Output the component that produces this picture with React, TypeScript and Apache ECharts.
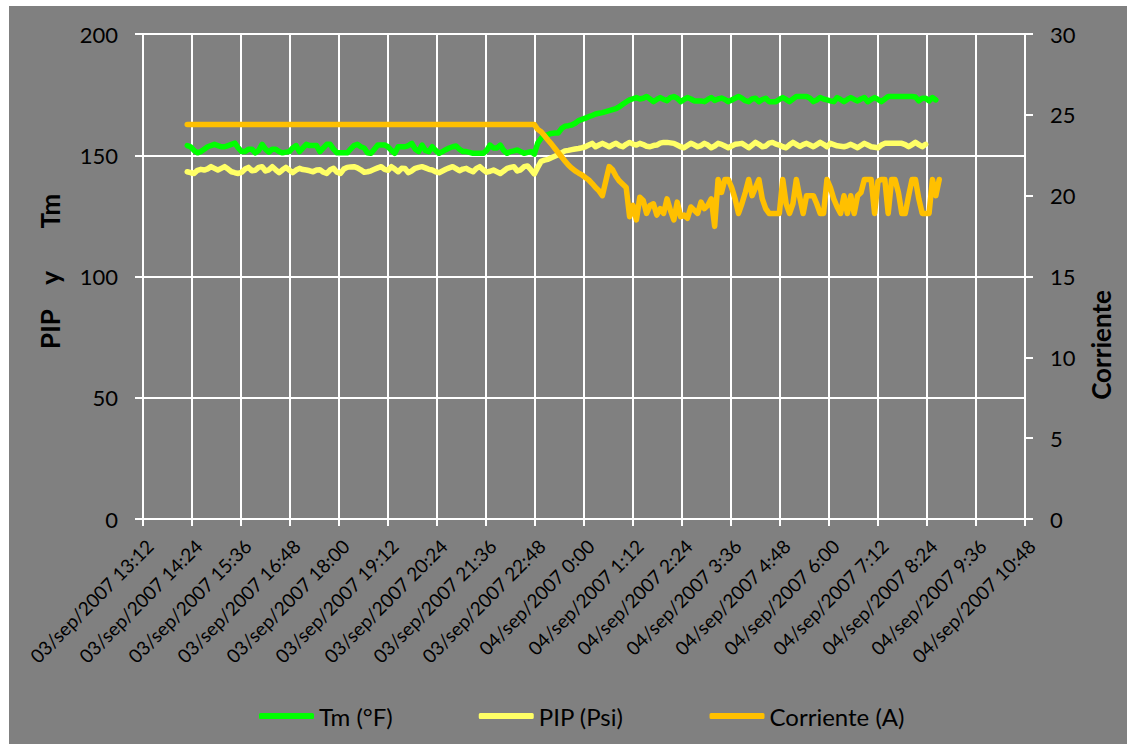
import React, { useEffect, useRef } from "react";
import * as echarts from "echarts";

// x values are minutes after 03/sep/2007 13:12
const X_MIN = 0;
const X_MAX = 1296;
const X_INTERVAL = 72;
const START_MIN = 65; // first sample 14:17
const STEP_MIN = 5;

const seriesNames = ["Tm (°F)", "PIP (Psi)", "Corriente (A)"];
const seriesColors = ["#00FF00", "#FFFF66", "#FFC000"];

const tmValues = [
  154, 153.5, 152, 151, 151.5, 152.5, 153.5, 154, 154.5, 154,
  153.5, 153.5, 154, 154.5, 155, 153, 151.5, 151.5, 152.5, 152.5,
  151, 152, 154.5, 152.5, 151.3, 152.5, 152.5, 151.5, 151, 151.3,
  151.5, 153, 154, 151.5, 153, 154.5, 154, 154, 154, 151.5,
  153, 154.5, 154.5, 152.5, 151, 151, 151, 151, 152.5, 154,
  154.5, 153.5, 153, 151, 150.8, 152.5, 154.2, 154.2, 154.2, 153.5,
  152, 150.8, 153.5, 153.5, 153.5, 154, 154.9, 152.5, 151.5, 154.2,
  152, 151.5, 153.5, 152, 150.8, 151.5, 152.3, 153, 153.5, 153.8,
  152.5, 151.5, 151.5, 151.2, 150.8, 150.8, 150.8, 150.8, 152, 154.2,
  153, 153, 154.2, 152, 150.8, 151.5, 151.8, 152.2, 151.5, 150.8,
  151.2, 151.5, 150.5, 155, 157, 158.2, 158.5, 159, 159.2, 159.2,
  161, 162, 162.2, 162.5, 163.2, 164.3, 164.8, 165.3, 165.9, 166.4,
  167, 167.3, 167.6, 168, 168.4, 168.8, 169.2, 170, 171, 172,
  172.8, 173.3, 173.8, 173.2, 173.5, 174.2, 173.2, 172.1, 173, 173.8,
  173, 172.5, 173.8, 174.2, 173.5, 172.1, 173, 173.8, 173.2, 172.4,
  172.4, 172.4, 172.1, 173, 173.8, 172.6, 173.2, 173.6, 173, 172.1,
  172.8, 173.5, 174.2, 173.5, 172.5, 172.1, 173.2, 173.5, 172.1, 173,
  173.5, 172.1, 172.1, 172.1, 173, 173.8, 173, 172.1, 173.2, 174.2,
  174.2, 174.2, 174.2, 173.5, 172.1, 172.8, 173.8, 173.2, 172.8, 172.4,
  172.1, 173.8, 173, 172.1, 173, 173.8, 173, 172.4, 173.2, 173.8,
  172.1, 173, 173.8, 173, 172.1, 173.2, 174.2, 174.2, 174.2, 174.2,
  174.2, 174.2, 174.2, 174.2, 174, 172.4, 173.5, 173.5, 172.4, 173.8,
  172.8,
];

const pipValues = [
  143.2, 142.8, 142.5, 143.8, 144.2, 143.9, 144.4, 145.3, 144.6, 143.9,
  144.6, 145.3, 144.3, 143.2, 142.8, 142.5, 143, 144.3, 145, 143.6,
  143.8, 145, 145.3, 143.5, 144, 145.3, 144, 142.8, 144, 145,
  143.9, 142.8, 143.9, 144.6, 144.1, 143.9, 143.6, 143.2, 143.9, 144,
  143, 142.5, 144, 144.6, 143, 142.5, 144.3, 145, 145.2, 145.3,
  144.8, 144, 143, 143.2, 143.6, 144.2, 144.8, 145.3, 144.2, 143.8,
  145.3, 144.3, 143.2, 144.6, 144.5, 142.8, 143.6, 144.6, 145, 145.3,
  144.8, 144.2, 143.9, 143.2, 142.8, 143.5, 144.2, 144.8, 145.3, 144.5,
  143.6, 144.3, 144.6, 143.8, 143.2, 144.6, 145.3, 144, 143, 143.4,
  143.9, 143.2, 142.5, 143.5, 144.6, 145, 145.3, 143.5, 144, 145.3,
  145.6, 144, 142.3, 145, 147.5, 148, 148.3, 149, 149.6, 150.2,
  151, 151.8, 152, 152.3, 152.6, 152.8, 153.1, 153.5, 154.2, 154.9,
  153.5, 154.2, 154.9, 154.2, 153.5, 154.3, 154.9, 154, 153.5, 154.5,
  155.3, 154.6, 154.2, 154.9, 154.4, 153.7, 153.5, 154, 154.2, 155,
  155.3, 155.3, 155.1, 154.9, 154.2, 153.5, 153.1, 154, 154.9, 154.3,
  153.5, 154, 154.9, 154.2, 153.1, 153.8, 154.9, 154.5, 153.8, 153.1,
  153.8, 154.5, 154.7, 154.9, 154, 153.1, 154.2, 155.3, 154.5, 153.5,
  153.8, 155, 155.3, 154.6, 154.2, 153.5, 153.1, 154.3, 155.3, 154.5,
  153.6, 154.4, 154.9, 154.2, 153.5, 154.4, 155.3, 154.5, 153.5, 154.9,
  154.4, 153.9, 153.7, 153.5, 153.9, 154.5, 153.8, 153.1, 154, 154.9,
  154.2, 153.5, 153.3, 153.1, 154.2, 154.9, 154.9, 154.9, 154.9, 154.9,
  154.9, 154.4, 153.5, 154.4, 155.3, 154.4, 153.5, 154.5,
];

const corrienteValues = [
  24.4, 24.4, 24.4, 24.4, 24.4, 24.4, 24.4, 24.4, 24.4, 24.4,
  24.4, 24.4, 24.4, 24.4, 24.4, 24.4, 24.4, 24.4, 24.4, 24.4,
  24.4, 24.4, 24.4, 24.4, 24.4, 24.4, 24.4, 24.4, 24.4, 24.4,
  24.4, 24.4, 24.4, 24.4, 24.4, 24.4, 24.4, 24.4, 24.4, 24.4,
  24.4, 24.4, 24.4, 24.4, 24.4, 24.4, 24.4, 24.4, 24.4, 24.4,
  24.4, 24.4, 24.4, 24.4, 24.4, 24.4, 24.4, 24.4, 24.4, 24.4,
  24.4, 24.4, 24.4, 24.4, 24.4, 24.4, 24.4, 24.4, 24.4, 24.4,
  24.4, 24.4, 24.4, 24.4, 24.4, 24.4, 24.4, 24.4, 24.4, 24.4,
  24.4, 24.4, 24.4, 24.4, 24.4, 24.4, 24.4, 24.4, 24.4, 24.4,
  24.4, 24.4, 24.4, 24.4, 24.4, 24.4, 24.4, 24.4, 24.4, 24.4,
  24.4, 24.4, 24.4, 24.1, 23.95, 23.7, 23.44, 23.2, 22.93, 22.67,
  22.41, 22.15, 21.9, 21.7, 21.53, 21.4, 21.28, 21.12, 20.97, 20.75,
  20.5, 20.3, 20.0, 20.9, 21.8, 21.6, 21.2, 20.9, 20.7, 20.5,
  18.7, 19.4, 18.5, 19.9, 19.7, 18.9, 19.4, 19.5, 18.8, 19.2,
  18.9, 19.8, 19.1, 18.5, 19.6, 18.7, 18.8, 18.6, 19.3, 19.1,
  18.9, 19.6, 19.2, 19.4, 19.8, 18.1, 21.0, 20.2, 21.0, 21.0,
  20.5, 19.8, 18.9, 19.5, 20.2, 21.0, 20.0, 20.5, 21.0, 19.8,
  19.2, 18.9, 18.9, 18.9, 18.9, 21.0, 19.5, 18.9, 19.5, 21.0,
  19.9, 18.9, 20.0, 20.0, 20.0, 19.5, 18.9, 18.9, 21.0, 20.5,
  19.8, 19.3, 18.9, 20.0, 18.9, 20.0, 18.9, 20.0, 20.2, 21.0,
  21.0, 21.0, 18.9, 20.9, 21.0, 21.0, 18.9, 21.0, 21.0, 20.2,
  18.9, 18.9, 20.0, 21.0, 21.0, 19.8, 18.9, 18.9, 18.9, 21.0,
  20.0, 21.0,
];

const leftAxis = { min: 0, max: 200, interval: 50 };
const rightAxis = { min: 0, max: 30, interval: 5 };

const FONT = 'Lato, "Noto Sans", sans-serif';

function toPairs(values: number[]) {
  return values.map((v, i) => [START_MIN + i * STEP_MIN, v]);
}

function formatTime(v: number) {
  const total = 13 * 60 + 12 + v;
  const day = 3 + Math.floor(total / 1440);
  const rem = total % 1440;
  const h = Math.floor(rem / 60);
  const m = rem % 60;
  return `${String(day).padStart(2, "0")}/sep/2007 ${h}:${String(m).padStart(2, "0")}`;
}

export default function App() {
  const ref = useRef<HTMLDivElement>(null);
  useEffect(() => {
    const chart = echarts.init(ref.current!, null, { renderer: "svg" });
    const white = { color: "#FFFFFF", width: 2 };
    const seriesData = [tmValues, pipValues, corrienteValues];
    chart.setOption({
      animation: false,
      backgroundColor: "#808080",
      textStyle: { fontFamily: FONT, color: "#000" },
      grid: { left: 134, right: 102, top: 28, bottom: 225 },
      legend: {
        data: seriesNames,
        left: 245,
        top: 693,
        icon: "roundRect",
        itemWidth: 55,
        itemHeight: 6,
        itemGap: 86,
        textStyle: { fontFamily: FONT, fontSize: 24, color: "#000" },
      },
      xAxis: {
        type: "value",
        min: X_MIN,
        max: X_MAX,
        interval: X_INTERVAL,
        axisLine: { show: true, lineStyle: white },
        axisTick: { show: true, length: 7, lineStyle: white },
        splitLine: { show: true, lineStyle: white },
        axisLabel: {
          rotate: 45,
          align: "right",
          verticalAlign: "top",
          margin: 17,
          fontSize: 19,
          fontFamily: FONT,
          color: "#000",
          formatter: (v: number) => formatTime(v),
        },
      },
      yAxis: [
        {
          type: "value",
          ...leftAxis,
          axisLine: { show: true, lineStyle: white },
          axisTick: { show: true, length: 8, lineStyle: white },
          splitLine: { show: true, lineStyle: white },
          axisLabel: { margin: 25, fontSize: 22, fontFamily: FONT, color: "#000" },
        },
        {
          type: "value",
          position: "right",
          ...rightAxis,
          axisLine: { show: true, lineStyle: white },
          axisTick: { show: true, length: 8, lineStyle: white },
          splitLine: { show: false },
          axisLabel: { margin: 25, fontSize: 22, fontFamily: FONT, color: "#000" },
        },
      ],
      graphic: [
        {
          type: "text",
          x: 41,
          y: 323,
          rotation: Math.PI / 2,
          style: { text: "PIP", fontSize: 26, fontWeight: "bold", fontFamily: FONT, fill: "#000", align: "center", verticalAlign: "middle" },
        },
        {
          type: "text",
          x: 41,
          y: 272,
          rotation: Math.PI / 2,
          style: { text: "y", fontSize: 26, fontWeight: "bold", fontFamily: FONT, fill: "#000", align: "center", verticalAlign: "middle" },
        },
        {
          type: "text",
          x: 41,
          y: 205,
          rotation: Math.PI / 2,
          style: { text: "Tm", fontSize: 26, fontWeight: "bold", fontFamily: FONT, fill: "#000", align: "center", verticalAlign: "middle" },
        },
        {
          type: "text",
          x: 1092,
          y: 339,
          rotation: Math.PI / 2,
          style: { text: "Corriente", fontSize: 26, fontWeight: "bold", fontFamily: FONT, fill: "#000", align: "center", verticalAlign: "middle" },
        },
      ],
      series: seriesNames.map((name, k) => ({
        name,
        type: "line",
        yAxisIndex: k === 2 ? 1 : 0,
        data: toPairs(seriesData[k]),
        showSymbol: false,
        symbol: "none",
        color: seriesColors[k],
        itemStyle: { color: seriesColors[k] },
        lineStyle: { width: 5.5, color: seriesColors[k], cap: "round", join: "round" },
        z: 2 + k,
      })),
    });
    return () => chart.dispose();
  }, []);
  return (
    <div
      ref={ref}
      style={{ position: "absolute", left: 9, top: 6, width: 1118, height: 738 }}
    />
  );
}
